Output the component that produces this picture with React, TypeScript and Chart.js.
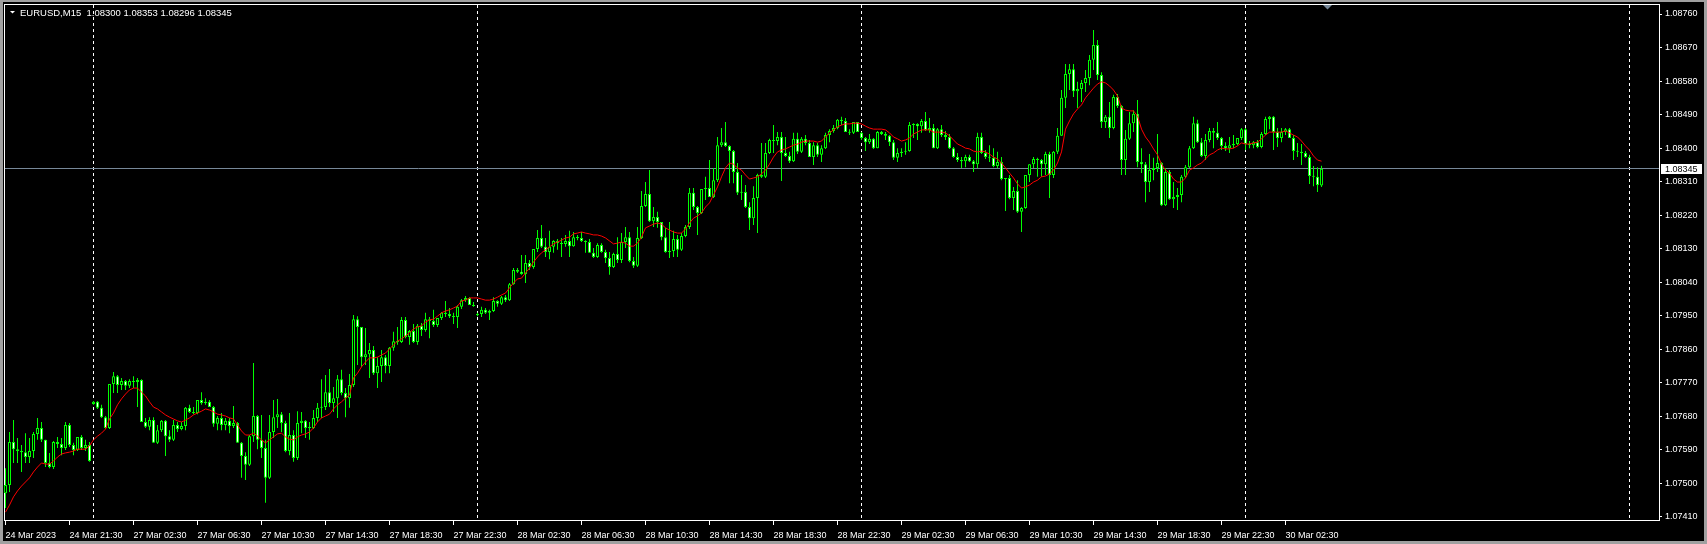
import React, { useEffect, useRef } from "react";
import { Chart, registerables } from "chart.js";

Chart.register(...registerables);

const SYMBOL = "EURUSD,M15";
const FONT = '"Liberation Sans", Arial, sans-serif';

const barOpen = [
1.07474,1.07496,1.07611,1.07592,1.07587,1.07584,1.07571,1.07587,1.07633,1.07649,
1.07617,1.07555,1.07544,1.07611,1.07606,1.07595,1.07657,1.07603,1.07590,1.07625,
1.07595,1.07603,1.07713,1.07719,1.07703,1.07678,1.07649,1.07767,1.07788,1.07764,
1.07775,1.07762,1.07775,1.07772,1.07778,1.07665,1.07652,1.07670,1.07609,1.07643,
1.07668,1.07627,1.07617,1.07657,1.07646,1.07654,1.07703,1.07692,1.07689,1.07724,
1.07716,1.07719,1.07705,1.07660,1.07676,1.07657,1.07668,1.07654,1.07662,1.07609,
1.07574,1.07550,1.07627,1.07681,1.07617,1.07595,1.07515,1.07638,1.07678,1.07686,
1.07662,1.07587,1.07630,1.07568,1.07662,1.07668,1.07649,1.07649,1.07676,1.07703,
1.07705,1.07745,1.07716,1.07729,1.07780,1.07743,1.07729,1.07764,1.07941,1.07920,
1.07839,1.07847,1.07858,1.07796,1.07815,1.07839,1.07815,1.07864,1.07882,1.07880,
1.07939,1.07893,1.07909,1.07880,1.07923,1.07912,1.07941,1.07936,1.07925,1.07944,
1.07958,1.07955,1.07949,1.07947,1.07974,1.07992,1.07998,1.07979,1.07952,1.07955,
1.07966,1.07958,1.07963,1.07990,1.07982,1.08000,1.07992,1.08035,1.08073,1.08068,
1.08062,1.08092,1.08081,1.08129,1.08159,1.08135,1.08121,1.08135,1.08151,1.08145,
1.08143,1.08151,1.08137,1.08161,1.08159,1.08151,1.08148,1.08119,1.08108,1.08140,
1.08121,1.08105,1.08081,1.08116,1.08100,1.08148,1.08161,1.08097,1.08084,1.08159,
1.08245,1.08277,1.08204,1.08215,1.08202,1.08161,1.08121,1.08124,1.08156,1.08127,
1.08164,1.08188,1.08280,1.08242,1.08226,1.08290,1.08293,1.08269,1.08314,1.08408,
1.08416,1.08406,1.08392,1.08336,1.08280,1.08282,1.08242,1.08212,1.08266,1.08328,
1.08323,1.08387,1.08422,1.08419,1.08430,1.08387,1.08379,1.08365,1.08425,1.08390,
1.08425,1.08414,1.08376,1.08408,1.08382,1.08400,1.08435,1.08446,1.08454,1.08476,
1.08473,1.08443,1.08441,1.08470,1.08441,1.08427,1.08416,1.08425,1.08400,1.08443,
1.08438,1.08433,1.08416,1.08374,1.08387,1.08390,1.08392,1.08462,1.08465,1.08459,
1.08473,1.08449,1.08454,1.08400,1.08451,1.08435,1.08430,1.08400,1.08376,1.08368,
1.08365,1.08376,1.08365,1.08357,1.08430,1.08387,1.08376,1.08374,1.08352,1.08363,
1.08317,1.08320,1.08266,1.08285,1.08229,1.08239,1.08328,1.08357,1.08371,1.08368,
1.08357,1.08384,1.08328,1.08390,1.08433,1.08535,1.08599,1.08612,1.08553,1.08559,
1.08575,1.08588,1.08637,1.08677,1.08596,1.08470,1.08484,1.08454,1.08537,1.08513,
1.08368,1.08425,1.08467,1.08492,1.08363,1.08357,1.08309,1.08341,1.08347,1.08360,
1.08247,1.08336,1.08263,1.08269,1.08274,1.08323,1.08349,1.08400,1.08467,1.08416,
1.08379,1.08422,1.08446,1.08441,1.08427,1.08406,1.08400,1.08408,1.08411,1.08427,
1.08451,1.08411,1.08408,1.08416,1.08403,1.08438,1.08478,1.08484,1.08443,1.08427,
1.08443,1.08451,1.08427,1.08392,1.08390,1.08387,1.08376,1.08325,1.08323,1.08300
];

const barHigh = [
1.07541,1.07638,1.07670,1.07622,1.07603,1.07635,1.07622,1.07638,1.07676,1.07665,
1.07617,1.07582,1.07614,1.07625,1.07622,1.07665,1.07662,1.07609,1.07625,1.07630,
1.07617,1.07611,1.07721,1.07721,1.07711,1.07681,1.07767,1.07799,1.07791,1.07783,
1.07778,1.07780,1.07788,1.07783,1.07780,1.07676,1.07678,1.07678,1.07657,1.07670,
1.07670,1.07643,1.07670,1.07665,1.07665,1.07705,1.07711,1.07705,1.07724,1.07745,
1.07729,1.07724,1.07708,1.07681,1.07689,1.07676,1.07676,1.07708,1.07665,1.07611,
1.07584,1.07630,1.07823,1.07684,1.07684,1.07617,1.07684,1.07724,1.07727,1.07692,
1.07668,1.07689,1.07643,1.07694,1.07692,1.07670,1.07665,1.07697,1.07716,1.07780,
1.07791,1.07807,1.07759,1.07791,1.07805,1.07756,1.07794,1.07952,1.07949,1.07920,
1.07917,1.07877,1.07869,1.07839,1.07858,1.07845,1.07866,1.07907,1.07920,1.07947,
1.07947,1.07912,1.07928,1.07928,1.07931,1.07958,1.07947,1.07966,1.07944,1.07960,
1.07990,1.07971,1.07958,1.07979,1.07995,1.08003,1.08000,1.07987,1.07958,1.07974,
1.07971,1.07966,1.08000,1.07992,1.08003,1.08006,1.08038,1.08078,1.08078,1.08113,
1.08113,1.08100,1.08129,1.08180,1.08194,1.08159,1.08178,1.08153,1.08156,1.08159,
1.08167,1.08178,1.08175,1.08167,1.08175,1.08153,1.08156,1.08132,1.08145,1.08145,
1.08127,1.08121,1.08119,1.08161,1.08172,1.08188,1.08175,1.08108,1.08188,1.08285,
1.08309,1.08341,1.08242,1.08229,1.08202,1.08186,1.08202,1.08178,1.08167,1.08172,
1.08194,1.08293,1.08293,1.08245,1.08290,1.08323,1.08368,1.08347,1.08430,1.08454,
1.08470,1.08408,1.08395,1.08360,1.08328,1.08301,1.08255,1.08298,1.08331,1.08414,
1.08414,1.08425,1.08462,1.08443,1.08443,1.08430,1.08390,1.08441,1.08441,1.08430,
1.08435,1.08422,1.08416,1.08414,1.08408,1.08441,1.08451,1.08462,1.08478,1.08484,
1.08481,1.08451,1.08470,1.08470,1.08443,1.08430,1.08438,1.08427,1.08446,1.08446,
1.08443,1.08435,1.08422,1.08400,1.08400,1.08416,1.08470,1.08467,1.08467,1.08478,
1.08497,1.08481,1.08465,1.08454,1.08462,1.08446,1.08438,1.08403,1.08387,1.08376,
1.08382,1.08382,1.08368,1.08441,1.08441,1.08395,1.08408,1.08400,1.08390,1.08376,
1.08320,1.08328,1.08296,1.08314,1.08242,1.08328,1.08357,1.08376,1.08374,1.08371,
1.08390,1.08390,1.08392,1.08454,1.08556,1.08626,1.08626,1.08626,1.08578,1.08583,
1.08610,1.08650,1.08717,1.08690,1.08604,1.08489,1.08524,1.08543,1.08545,1.08516,
1.08449,1.08497,1.08502,1.08529,1.08400,1.08363,1.08384,1.08374,1.08438,1.08363,
1.08347,1.08341,1.08309,1.08293,1.08328,1.08355,1.08406,1.08484,1.08476,1.08427,
1.08438,1.08454,1.08454,1.08470,1.08430,1.08416,1.08430,1.08435,1.08427,1.08454,
1.08454,1.08419,1.08419,1.08422,1.08443,1.08484,1.08486,1.08486,1.08454,1.08454,
1.08454,1.08454,1.08435,1.08414,1.08411,1.08392,1.08382,1.08352,1.08349,1.08353
];

const barLow = [
1.07434,1.07477,1.07555,1.07555,1.07531,1.07555,1.07555,1.07568,1.07617,1.07611,
1.07544,1.07541,1.07539,1.07595,1.07576,1.07590,1.07598,1.07576,1.07587,1.07590,
1.07587,1.07558,1.07711,1.07700,1.07676,1.07646,1.07646,1.07743,1.07743,1.07751,
1.07751,1.07756,1.07756,1.07705,1.07665,1.07649,1.07643,1.07609,1.07606,1.07638,
1.07574,1.07611,1.07614,1.07638,1.07643,1.07643,1.07689,1.07686,1.07686,1.07711,
1.07711,1.07705,1.07652,1.07643,1.07643,1.07643,1.07635,1.07649,1.07609,1.07515,
1.07509,1.07547,1.07611,1.07592,1.07568,1.07448,1.07512,1.07622,1.07649,1.07638,
1.07584,1.07576,1.07558,1.07563,1.07635,1.07622,1.07617,1.07646,1.07665,1.07676,
1.07697,1.07705,1.07692,1.07676,1.07737,1.07678,1.07703,1.07759,1.07818,1.07813,
1.07818,1.07783,1.07791,1.07756,1.07772,1.07796,1.07796,1.07856,1.07872,1.07877,
1.07890,1.07872,1.07877,1.07872,1.07896,1.07907,1.07890,1.07920,1.07920,1.07939,
1.07947,1.07944,1.07928,1.07917,1.07968,1.07987,1.07979,1.07974,1.07949,1.07947,
1.07955,1.07939,1.07960,1.07974,1.07979,1.07987,1.07990,1.08033,1.08065,1.08060,
1.08038,1.08073,1.08076,1.08121,1.08132,1.08108,1.08102,1.08119,1.08127,1.08108,
1.08135,1.08108,1.08135,1.08153,1.08148,1.08119,1.08119,1.08105,1.08105,1.08119,
1.08092,1.08060,1.08078,1.08092,1.08092,1.08132,1.08094,1.08078,1.08081,1.08156,
1.08242,1.08202,1.08188,1.08186,1.08153,1.08119,1.08105,1.08108,1.08108,1.08124,
1.08161,1.08183,1.08234,1.08167,1.08223,1.08261,1.08269,1.08266,1.08309,1.08403,
1.08403,1.08306,1.08306,1.08274,1.08261,1.08239,1.08180,1.08194,1.08172,1.08320,
1.08320,1.08384,1.08387,1.08408,1.08312,1.08376,1.08360,1.08363,1.08384,1.08387,
1.08408,1.08376,1.08355,1.08376,1.08363,1.08398,1.08416,1.08441,1.08451,1.08462,
1.08443,1.08435,1.08438,1.08443,1.08422,1.08392,1.08411,1.08398,1.08400,1.08435,
1.08422,1.08406,1.08368,1.08363,1.08376,1.08382,1.08390,1.08427,1.08422,1.08441,
1.08446,1.08441,1.08400,1.08398,1.08430,1.08422,1.08398,1.08374,1.08363,1.08347,
1.08349,1.08363,1.08336,1.08347,1.08384,1.08371,1.08363,1.08349,1.08347,1.08314,
1.08231,1.08263,1.08234,1.08226,1.08175,1.08237,1.08309,1.08347,1.08323,1.08323,
1.08328,1.08266,1.08320,1.08384,1.08433,1.08508,1.08556,1.08537,1.08508,1.08524,
1.08551,1.08569,1.08610,1.08583,1.08454,1.08454,1.08427,1.08451,1.08508,1.08328,
1.08328,1.08422,1.08443,1.08349,1.08333,1.08255,1.08282,1.08314,1.08336,1.08245,
1.08245,1.08261,1.08239,1.08234,1.08255,1.08320,1.08347,1.08398,1.08414,1.08376,
1.08368,1.08416,1.08400,1.08422,1.08395,1.08392,1.08387,1.08400,1.08408,1.08422,
1.08395,1.08400,1.08400,1.08400,1.08400,1.08435,1.08451,1.08395,1.08403,1.08416,
1.08435,1.08427,1.08368,1.08376,1.08355,1.08374,1.08304,1.08298,1.08282,1.08296
];

const barClose = [
1.07496,1.07611,1.07592,1.07587,1.07584,1.07571,1.07587,1.07633,1.07649,1.07617,
1.07555,1.07544,1.07611,1.07606,1.07595,1.07657,1.07603,1.07590,1.07625,1.07595,
1.07603,1.07560,1.07719,1.07703,1.07678,1.07649,1.07767,1.07788,1.07764,1.07775,
1.07762,1.07775,1.07772,1.07778,1.07665,1.07652,1.07670,1.07609,1.07643,1.07668,
1.07627,1.07617,1.07657,1.07646,1.07654,1.07703,1.07692,1.07689,1.07724,1.07716,
1.07719,1.07705,1.07660,1.07676,1.07657,1.07668,1.07654,1.07662,1.07609,1.07574,
1.07550,1.07627,1.07681,1.07617,1.07595,1.07515,1.07638,1.07678,1.07686,1.07662,
1.07587,1.07630,1.07568,1.07662,1.07668,1.07649,1.07649,1.07676,1.07703,1.07705,
1.07745,1.07716,1.07729,1.07780,1.07743,1.07729,1.07764,1.07941,1.07920,1.07839,
1.07847,1.07858,1.07796,1.07815,1.07839,1.07815,1.07864,1.07882,1.07880,1.07939,
1.07893,1.07909,1.07880,1.07923,1.07912,1.07941,1.07936,1.07925,1.07944,1.07958,
1.07955,1.07949,1.07947,1.07974,1.07992,1.07998,1.07979,1.07976,1.07955,1.07966,
1.07958,1.07963,1.07990,1.07982,1.08000,1.07992,1.08035,1.08073,1.08068,1.08062,
1.08092,1.08081,1.08129,1.08159,1.08135,1.08121,1.08135,1.08151,1.08145,1.08143,
1.08151,1.08137,1.08161,1.08159,1.08151,1.08148,1.08119,1.08108,1.08140,1.08121,
1.08105,1.08081,1.08116,1.08100,1.08148,1.08161,1.08097,1.08084,1.08159,1.08245,
1.08277,1.08204,1.08215,1.08202,1.08161,1.08121,1.08124,1.08156,1.08127,1.08164,
1.08188,1.08280,1.08242,1.08226,1.08290,1.08293,1.08269,1.08314,1.08408,1.08416,
1.08406,1.08392,1.08336,1.08280,1.08282,1.08242,1.08212,1.08266,1.08328,1.08323,
1.08387,1.08422,1.08419,1.08430,1.08387,1.08379,1.08365,1.08425,1.08390,1.08425,
1.08414,1.08376,1.08408,1.08382,1.08400,1.08435,1.08446,1.08454,1.08476,1.08473,
1.08443,1.08441,1.08470,1.08443,1.08427,1.08416,1.08425,1.08400,1.08443,1.08438,
1.08433,1.08416,1.08374,1.08387,1.08390,1.08392,1.08462,1.08465,1.08459,1.08473,
1.08449,1.08454,1.08400,1.08451,1.08435,1.08430,1.08400,1.08376,1.08368,1.08365,
1.08376,1.08365,1.08357,1.08430,1.08387,1.08376,1.08374,1.08352,1.08363,1.08317,
1.08320,1.08266,1.08285,1.08229,1.08239,1.08328,1.08357,1.08371,1.08368,1.08357,
1.08384,1.08328,1.08390,1.08433,1.08535,1.08599,1.08612,1.08553,1.08559,1.08575,
1.08588,1.08637,1.08677,1.08596,1.08470,1.08484,1.08454,1.08537,1.08513,1.08368,
1.08425,1.08467,1.08492,1.08363,1.08357,1.08309,1.08341,1.08347,1.08360,1.08247,
1.08336,1.08263,1.08269,1.08274,1.08323,1.08349,1.08400,1.08467,1.08416,1.08379,
1.08422,1.08446,1.08441,1.08427,1.08406,1.08400,1.08408,1.08411,1.08427,1.08451,
1.08411,1.08408,1.08416,1.08403,1.08438,1.08478,1.08484,1.08443,1.08427,1.08443,
1.08451,1.08427,1.08392,1.08390,1.08387,1.08376,1.08325,1.08323,1.08301,1.08345
];

const maValues = [
1.07423,1.07442,1.07464,1.07480,1.07493,1.07504,1.07515,1.07531,1.07544,1.07555,
1.07552,1.07552,1.07560,1.07571,1.07579,1.07582,1.07584,1.07587,1.07592,1.07592,
1.07592,1.07601,1.07617,1.07627,1.07635,1.07646,1.07673,1.07689,1.07711,1.07727,
1.07740,1.07751,1.07756,1.07756,1.07745,1.07735,1.07719,1.07705,1.07700,1.07692,
1.07684,1.07678,1.07673,1.07668,1.07665,1.07670,1.07676,1.07684,1.07689,1.07694,
1.07700,1.07697,1.07692,1.07686,1.07684,1.07681,1.07676,1.07673,1.07657,1.07641,
1.07630,1.07630,1.07635,1.07627,1.07617,1.07609,1.07617,1.07625,1.07633,1.07635,
1.07625,1.07619,1.07617,1.07625,1.07630,1.07633,1.07638,1.07649,1.07665,1.07676,
1.07681,1.07686,1.07700,1.07711,1.07719,1.07729,1.07737,1.07783,1.07796,1.07813,
1.07826,1.07837,1.07837,1.07839,1.07845,1.07850,1.07861,1.07872,1.07882,1.07888,
1.07896,1.07904,1.07915,1.07920,1.07923,1.07933,1.07939,1.07941,1.07949,1.07958,
1.07963,1.07966,1.07971,1.07976,1.07990,1.07992,1.07998,1.07998,1.07998,1.07995,
1.07992,1.07992,1.07995,1.08000,1.08006,1.08011,1.08025,1.08038,1.08049,1.08051,
1.08065,1.08078,1.08094,1.08108,1.08119,1.08127,1.08135,1.08143,1.08148,1.08153,
1.08159,1.08161,1.08170,1.08172,1.08175,1.08172,1.08170,1.08167,1.08167,1.08164,
1.08159,1.08151,1.08143,1.08145,1.08148,1.08145,1.08137,1.08137,1.08145,1.08161,
1.08186,1.08191,1.08196,1.08199,1.08196,1.08186,1.08180,1.08175,1.08172,1.08172,
1.08183,1.08199,1.08212,1.08218,1.08226,1.08242,1.08253,1.08274,1.08296,1.08323,
1.08347,1.08360,1.08357,1.08347,1.08341,1.08328,1.08317,1.08320,1.08323,1.08331,
1.08341,1.08357,1.08376,1.08390,1.08395,1.08398,1.08403,1.08408,1.08411,1.08416,
1.08419,1.08419,1.08419,1.08416,1.08419,1.08430,1.08441,1.08449,1.08457,1.08462,
1.08465,1.08465,1.08467,1.08467,1.08465,1.08459,1.08454,1.08451,1.08451,1.08451,
1.08449,1.08441,1.08430,1.08425,1.08419,1.08422,1.08427,1.08438,1.08443,1.08449,
1.08449,1.08449,1.08443,1.08443,1.08443,1.08441,1.08433,1.08422,1.08411,1.08406,
1.08400,1.08398,1.08392,1.08390,1.08392,1.08390,1.08384,1.08376,1.08371,1.08360,
1.08347,1.08333,1.08320,1.08304,1.08293,1.08296,1.08301,1.08309,1.08314,1.08323,
1.08325,1.08331,1.08341,1.08360,1.08390,1.08451,1.08473,1.08492,1.08505,1.08516,
1.08535,1.08548,1.08561,1.08572,1.08578,1.08575,1.08567,1.08556,1.08540,1.08508,
1.08502,1.08500,1.08500,1.08486,1.08451,1.08430,1.08416,1.08398,1.08382,1.08357,
1.08341,1.08333,1.08317,1.08309,1.08309,1.08320,1.08341,1.08347,1.08355,1.08360,
1.08371,1.08382,1.08387,1.08395,1.08400,1.08398,1.08398,1.08400,1.08406,1.08414,
1.08411,1.08411,1.08414,1.08416,1.08425,1.08435,1.08443,1.08443,1.08443,1.08443,
1.08446,1.08441,1.08435,1.08430,1.08419,1.08406,1.08395,1.08379,1.08368,1.08365
];

const timeLabels = [
"24 Mar 2023","24 Mar 21:30","27 Mar 02:30","27 Mar 06:30","27 Mar 10:30","27 Mar 14:30",
"27 Mar 18:30","27 Mar 22:30","28 Mar 02:30","28 Mar 06:30","28 Mar 10:30","28 Mar 14:30",
"28 Mar 18:30","28 Mar 22:30","29 Mar 02:30","29 Mar 06:30","29 Mar 10:30","29 Mar 14:30",
"29 Mar 18:30","29 Mar 22:30","30 Mar 02:30"
];
const timeLabelBars = [0,16,32,48,64,80,96,112,128,144,160,176,192,208,224,240,256,272,288,304,320];
const daySeparatorBars = [22,118,214,310,406];
const priceTicks = [1.0876,1.0867,1.0858,1.0849,1.0840,1.0831,1.0822,1.0813,1.0804,1.0795,1.0786,1.0777,1.0768,1.0759,1.0750,1.0741];

const X_MIN = -0.375;
const X_MAX = 413.375;
const Y_MAX = 1.08786864;
const Y_MIN = 1.0740192;

export default function App() {
  const canvasRef = useRef<HTMLCanvasElement | null>(null);

  useEffect(() => {
    const canvas = canvasRef.current;
    if (!canvas) return;
    const n = barClose.length;
    const idx = barClose.map((_, i) => i);
    const wickData = idx.map((i) => ({ x: i, y: [barLow[i], barHigh[i]] }));
    const bodyData = idx.map((i) => ({ x: i, y: [barOpen[i], barClose[i]] }));
    const bodyFill = idx.map((i) => (barClose[i] >= barOpen[i] ? "#000000" : "#ffffff"));
    const maData = maValues.map((v, i) => ({ x: i, y: v }));
    const lastClose = barClose[n - 1];

    const decor = {
      id: "mt4Decor",
      beforeDatasetsDraw(chart: any) {
        const { ctx, chartArea: a, scales } = chart;
        const xs = scales.x;
        const ys = scales.y;
        ctx.save();
        ctx.lineWidth = 1;
        ctx.strokeStyle = "#ffffff";
        ctx.setLineDash([]);
        ctx.strokeRect(a.left + 0.5, a.top + 0.5, a.right - a.left, a.bottom - a.top);
        ctx.setLineDash([3, 3]);
        for (const b of daySeparatorBars) {
          const px = Math.round(xs.getPixelForValue(b) - 0.5) + 0.5;
          ctx.beginPath();
          ctx.moveTo(px, a.top + 1);
          ctx.lineTo(px, a.bottom);
          ctx.stroke();
        }
        ctx.setLineDash([]);
        const py = Math.floor(ys.getPixelForValue(lastClose)) + 0.5;
        ctx.strokeStyle = "#778899";
        ctx.beginPath();
        ctx.moveTo(a.left + 1, py);
        ctx.lineTo(a.right, py);
        ctx.stroke();
        ctx.restore();
      },
      afterDraw(chart: any) {
        const { ctx, chartArea: a, scales } = chart;
        const xs = scales.x;
        const ys = scales.y;
        ctx.save();
        // title
        ctx.fillStyle = "#ffffff";
        ctx.beginPath();
        ctx.moveTo(10, 11);
        ctx.lineTo(15, 11);
        ctx.lineTo(12.5, 13.5);
        ctx.closePath();
        ctx.fill();
        ctx.font = `9.5px ${FONT}`;
        ctx.textBaseline = "alphabetic";
        ctx.textAlign = "left";
        const f = (v: number) => v.toFixed(5);
        ctx.fillText(
          `${SYMBOL}  ${f(barOpen[n - 1])} ${f(barHigh[n - 1])} ${f(barLow[n - 1])} ${f(barClose[n - 1])}`,
          20,
          16
        );
        // price label box
        ctx.font = `9px ${FONT}`;
        const py = Math.round(ys.getPixelForValue(lastClose));
        ctx.fillStyle = "#ffffff";
        ctx.fillRect(a.right + 2, py - 5, 41, 10);
        ctx.fillStyle = "#000000";
        ctx.textBaseline = "middle";
        ctx.fillText(f(lastClose), a.right + 6, py + 0.5);
        // chart shift marker
        const sx = Math.floor(xs.getPixelForValue(n + 0.5));
        ctx.fillStyle = "#778899";
        ctx.beginPath();
        ctx.moveTo(sx - 4, a.top + 1);
        ctx.lineTo(sx + 5, a.top + 1);
        ctx.lineTo(sx + 0.5, a.top + 5.5);
        ctx.closePath();
        ctx.fill();
        // window frame
        ctx.fillStyle = "#a0a0a0";
        ctx.fillRect(0, 0, 1707, 2);
        ctx.fillRect(0, 0, 3, 544);
        ctx.fillRect(0, 541, 1707, 3);
        ctx.fillRect(1704, 0, 3, 544);
        ctx.restore();
      },
    };

    const chart = new Chart(canvas, {
      type: "bar",
      data: {
        datasets: [
          {
            type: "line",
            label: "MA",
            data: maData,
            borderColor: "#ff0000",
            borderWidth: 1,
            pointRadius: 0,
            tension: 0,
            fill: false,
            order: 0,
          } as any,
          {
            type: "bar",
            label: "Bodies",
            data: bodyData as any,
            backgroundColor: bodyFill,
            borderColor: "#00ff00",
            borderWidth: 1,
            borderSkipped: false,
            barThickness: 3,
            minBarLength: 1,
            inflateAmount: 0,
            grouped: false,
            order: 1,
          } as any,
          {
            type: "bar",
            label: "Wicks",
            data: wickData as any,
            backgroundColor: "#00ff00",
            borderWidth: 0,
            barThickness: 1,
            minBarLength: 1,
            inflateAmount: 0,
            grouped: false,
            order: 2,
          } as any,
        ],
      },
      options: {
        animation: false,
        responsive: false,
        maintainAspectRatio: false,
        devicePixelRatio: 1,
        layout: { padding: { left: 4, top: 4, right: 0, bottom: 0 } },
        plugins: {
          legend: { display: false },
          tooltip: { enabled: false },
          title: { display: false },
        },
        events: [],
        scales: {
          x: {
            type: "linear",
            position: "bottom",
            min: X_MIN,
            max: X_MAX,
            offset: false,
            grid: {
              display: true,
              offset: false,
              drawOnChartArea: false,
              drawTicks: true,
              tickLength: 5,
              color: "#ffffff",
              tickColor: "#ffffff",
              lineWidth: 1,
            },
            border: { display: false },
            ticks: {
              autoSkip: false,
              maxRotation: 0,
              minRotation: 0,
              align: "start",
              color: "#ffffff",
              padding: 5,
              font: { family: FONT, size: 9 },
              callback: (_v: any, i: number) => timeLabels[i] ?? "",
            },
            afterBuildTicks: (s: any) => {
              s.ticks = timeLabelBars.map((v) => ({ value: v }));
            },
            afterFit: (s: any) => {
              s.height = 24;
              s.paddingLeft = 0;
              s.paddingRight = 0;
            },
          } as any,
          y: {
            type: "linear",
            position: "right",
            min: Y_MIN,
            max: Y_MAX,
            grid: {
              display: true,
              drawOnChartArea: false,
              drawTicks: true,
              tickLength: 3,
              color: "#ffffff",
              tickColor: "#ffffff",
              lineWidth: 1,
            },
            border: { display: false },
            ticks: {
              color: "#ffffff",
              padding: 3,
              font: { family: FONT, size: 9 },
              callback: (v: any) => Number(v).toFixed(5),
            },
            afterBuildTicks: (s: any) => {
              s.ticks = priceTicks.map((v) => ({ value: v }));
            },
            afterFit: (s: any) => {
              s.width = 48;
              s.paddingTop = 0;
              s.paddingBottom = 0;
            },
          } as any,
        },
      } as any,
      plugins: [decor],
    });

    return () => chart.destroy();
  }, []);

  return (
    <div style={{ position: "fixed", left: 0, top: 0, width: 1707, height: 544, background: "#000000" }}>
      <canvas ref={canvasRef} width={1707} height={544} style={{ display: "block", width: 1707, height: 544 }} />
    </div>
  );
}
